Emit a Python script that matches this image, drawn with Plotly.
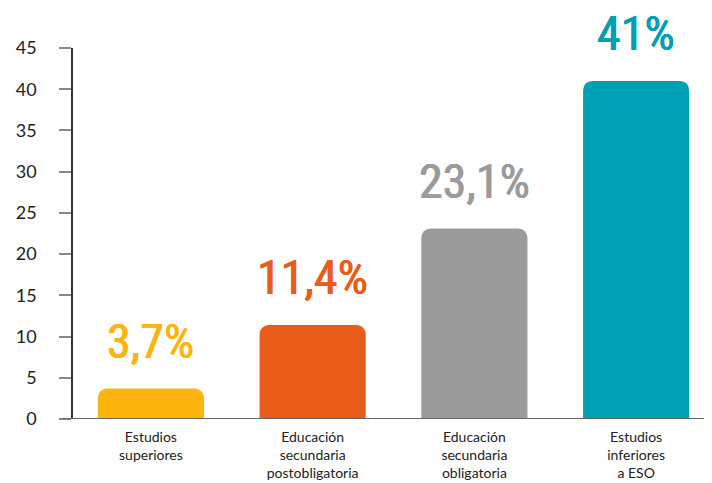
import plotly.graph_objects as go

categories = ["Estudios<br>superiores", "Educación<br>secundaria<br>postobligatoria",
              "Educación<br>secundaria<br>obligatoria", "Estudios<br>inferiores<br>a ESO"]
values = [3.7, 11.4, 23.1, 41]
value_labels = ["3,7%", "11,4%", "23,1%", "41%"]
colors = ["#FCB40F", "#EA5C19", "#9B9B9B", "#00A0B4"]
y_ticks = [0, 5, 10, 15, 20, 25, 30, 35, 40, 45]

x = list(range(len(categories)))

fig = go.Figure()
fig.add_trace(go.Bar(
    x=x, y=values, width=0.656,
    marker=dict(color=colors, line=dict(width=0), cornerradius=9),
    hoverinfo="skip",
))

for xi, v, lab, c in zip(x, values, value_labels, colors):
    fig.add_annotation(
        x=xi, y=v, text=lab, showarrow=False, xanchor="center", yanchor="bottom",
        yshift=17,
        font=dict(family="Roboto Condensed, Open Sans Condensed, sans-serif",
                  size=48, color=c, weight=400,
                  shadow=f"0.4px 0 0 {c}, -0.4px 0 0 {c}"),
    )

fig.add_shape(type="line", xref="paper", yref="y", x0=-0.017, x1=1, y0=0, y1=0,
              line=dict(color="#666666", width=2), layer="above")

fig.update_layout(
    width=712, height=483,
    margin=dict(l=60, r=8, t=40, b=72),
    paper_bgcolor="white", plot_bgcolor="white",
    showlegend=False,
    bargap=0.3,
    xaxis=dict(
        range=[-0.4816, 3.469],
        tickmode="array", tickvals=x, ticktext=categories,
        showline=False, showgrid=False, zeroline=False, ticks="",
        ticklabelstandoff=8,
        tickfont=dict(family="Lato, Noto Sans, sans-serif", size=14, color="#222222"),
    ),
    yaxis=dict(
        range=[0, 45],
        tickmode="array", tickvals=y_ticks,
        showline=True, linecolor="#333333", linewidth=1.5,
        showgrid=False, zeroline=False,
        ticks="outside", ticklen=12, tickcolor="#888888", tickwidth=1.5,
        ticklabelstandoff=19,
        tickfont=dict(family="Lato, Noto Sans, sans-serif", size=18, color="#222222"),
    ),
)

fig.write_html("out.html")
